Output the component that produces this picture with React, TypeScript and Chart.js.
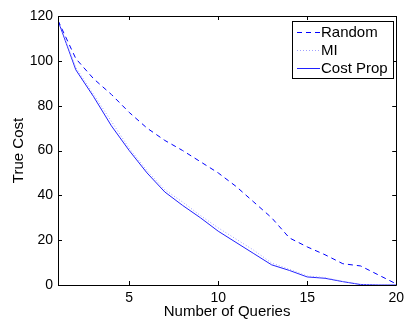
import React, { useEffect, useRef } from "react";
import { Chart, registerables } from "chart.js";

Chart.register(...registerables);

const queries = [1, 2, 3, 4, 5, 6, 7, 8, 9, 10, 11, 12, 13, 14, 15, 16, 17, 18, 19, 20];
const randomCost = [118, 101, 92, 85, 77, 70, 64.5, 60, 55, 50, 44, 37, 30, 21, 17, 13.5, 9.5, 8.5, 4.5, 0.5];
const miCost = [118, 97, 85, 73, 61, 51, 42.5, 37, 31, 25.5, 20.5, 15.5, 9.8, 7, 4, 3.3, 1.6, 0.3, 0, 0];
const costPropCost = [118, 96, 84, 71, 60, 50, 41.5, 35.5, 30, 24, 19, 14, 9, 6.5, 3.6, 3, 1.5, 0.2, 0, 0];
const xTicks = [5, 10, 15, 20];
const yTicks = [0, 20, 40, 60, 80, 100, 120];
const seriesNames = ["Random", "MI", "Cost Prop"];

const FONT = "'Liberation Sans', Arial, Helvetica, sans-serif";

const framePlugin = {
  id: "matlabFrame",
  afterDraw(chart: any) {
    const { ctx, chartArea } = chart;
    const { left, right, top, bottom } = chartArea;
    const xs = chart.scales.x;
    const ys = chart.scales.y;
    ctx.save();
    ctx.strokeStyle = "#000";
    ctx.lineWidth = 1;
    ctx.beginPath();
    ctx.rect(Math.round(left) + 0.5, Math.round(top) + 0.5, Math.round(right - left), Math.round(bottom - top));
    ctx.stroke();
    const tl = 4;
    ctx.beginPath();
    xTicks.forEach((v) => {
      const px = Math.round(xs.getPixelForValue(v)) + 0.5;
      ctx.moveTo(px, bottom);
      ctx.lineTo(px, bottom - tl);
      ctx.moveTo(px, top);
      ctx.lineTo(px, top + tl);
    });
    yTicks.forEach((v) => {
      const py = Math.round(ys.getPixelForValue(v)) + 0.5;
      ctx.moveTo(left, py);
      ctx.lineTo(left + tl, py);
      ctx.moveTo(right, py);
      ctx.lineTo(right - tl, py);
    });
    ctx.stroke();

    // legend box
    const bx = 292.5, by = 21.5, bw = 101, bh = 57;
    ctx.fillStyle = "#fff";
    ctx.fillRect(bx, by, bw, bh);
    ctx.strokeStyle = "#000";
    ctx.strokeRect(bx, by, bw, bh);
    const rows = [31.5, 49.5, 67.5];
    chart.data.datasets.forEach((ds: any, i: number) => {
      const y = Math.round(rows[i]) + 0.5;
      ctx.save();
      ctx.strokeStyle = ds.borderColor;
      ctx.lineWidth = ds.borderWidth;
      ctx.setLineDash(ds.borderDash || []);
      ctx.beginPath();
      ctx.moveTo(297, y);
      ctx.lineTo(320, y);
      ctx.stroke();
      ctx.restore();
      ctx.fillStyle = "#000";
      ctx.font = `15px ${FONT}`;
      ctx.textBaseline = "middle";
      ctx.textAlign = "left";
      ctx.fillText(ds.label, 321, rows[i] + 1);
    });
    ctx.restore();
  },
};

export default function App() {
  const ref = useRef<HTMLCanvasElement | null>(null);
  useEffect(() => {
    if (!ref.current) return;
    const toPts = (arr: number[]) => queries.map((q, i) => ({ x: q, y: arr[i] }));
    const chart = new Chart(ref.current, {
      type: "line",
      data: {
        datasets: [
          {
            label: seriesNames[0],
            data: toPts(randomCost),
            borderColor: "#0000ff",
            borderWidth: 1,
            borderDash: [5, 4],
            pointRadius: 0,
            fill: false,
            tension: 0,
          },
          {
            label: seriesNames[1],
            data: toPts(miCost),
            borderColor: "#a0a0ff",
            borderWidth: 1,
            borderDash: [1, 2],
            pointRadius: 0,
            fill: false,
            tension: 0,
          },
          {
            label: seriesNames[2],
            data: toPts(costPropCost),
            borderColor: "#2020ff",
            borderWidth: 1,
            pointRadius: 0,
            fill: false,
            tension: 0,
          },
        ],
      },
      options: {
        animation: false,
        responsive: false,
        maintainAspectRatio: false,
        layout: { padding: { left: 0, top: 16, right: 9, bottom: 0 } },
        plugins: { legend: { display: false }, tooltip: { enabled: false } },
        scales: {
          x: {
            type: "linear",
            min: 1,
            max: 20,
            grid: { display: false, drawTicks: false },
            border: { display: false },
            afterBuildTicks: (s: any) => {
              s.ticks = xTicks.map((v) => ({ value: v }));
            },
            afterFit: (s: any) => {
              s.height = 37;
            },
            ticks: {
              color: "#000",
              padding: 5,
              maxRotation: 0,
              autoSkip: false,
              font: { family: FONT, size: 14 },
            },
            title: {
              display: true,
              text: "Number of Queries",
              color: "#000",
              font: { family: FONT, size: 15 },
              padding: { top: 0, bottom: 1 },
            },
          },
          y: {
            min: 0,
            max: 120,
            grid: { display: false, drawTicks: false },
            border: { display: false },
            afterBuildTicks: (s: any) => {
              s.ticks = yTicks.map((v) => ({ value: v }));
            },
            afterFit: (s: any) => {
              s.width = 58;
            },
            ticks: {
              color: "#000",
              padding: 5,
              font: { family: FONT, size: 14 },
            },
            title: {
              display: true,
              text: "True Cost",
              color: "#000",
              font: { family: FONT, size: 15 },
              padding: { top: 10, bottom: 0 },
            },
          },
        },
      },
      plugins: [framePlugin],
    });
    return () => chart.destroy();
  }, []);
  return (
    <div style={{ position: "fixed", left: 0, top: 0, width: 409, height: 322, background: "#fff" }}>
      <canvas ref={ref} width={409} height={322} style={{ width: 409, height: 322 }} />
    </div>
  );
}
